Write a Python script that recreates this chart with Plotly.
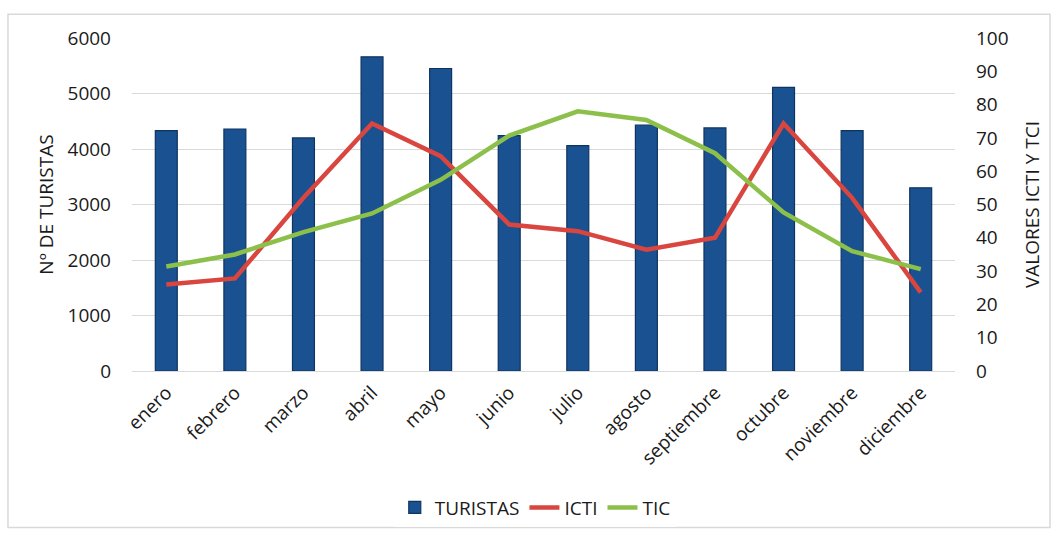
import plotly.graph_objects as go

# Monthly tourist counts and climate comfort indices
meses = ["enero", "febrero", "marzo", "abril", "mayo", "junio", "julio",
         "agosto", "septiembre", "octubre", "noviembre", "diciembre"]
turistas = [4330, 4360, 4200, 5660, 5450, 4240, 4060, 4430, 4380, 5110, 4330, 3300]
icti = [26, 27.8, 52, 74.3, 64.5, 44, 42, 36.4, 40, 74.3, 52, 23.6]
tic = [31.4, 35, 41.7, 47.3, 57.4, 70.7, 78, 75.4, 65.4, 47.6, 36, 30.6]

FONT = "Open Sans"
FS = 19
fig = go.Figure()

fig.add_trace(go.Bar(
    x=meses, y=turistas, name="TURISTAS", width=0.32,
    marker=dict(color="#1a5190", line=dict(color="#0e3562", width=1.2)),
    yaxis="y",
))
fig.add_trace(go.Scatter(
    x=meses, y=icti, name="ICTI", mode="lines",
    line=dict(color="#d9463f", width=4.5), yaxis="y2",
))
fig.add_trace(go.Scatter(
    x=meses, y=tic, name="TIC", mode="lines",
    line=dict(color="#8cc04b", width=4.5), yaxis="y2",
))

fig.update_layout(
    width=1059, height=539,
    margin=dict(l=132, r=104, t=38, b=163),
    paper_bgcolor="white", plot_bgcolor="white",
    font=dict(family=FONT, size=FS, color="#1a1a1a"),
    showlegend=True,
    legend=dict(orientation="h", x=0.49, xanchor="center", y=-0.41, yanchor="middle",
                font=dict(size=FS), traceorder="normal", itemwidth=30),
    xaxis=dict(tickangle=-45, showgrid=False, showline=False, ticks="",
               tickfont=dict(size=FS), ticklabelstandoff=6),
    yaxis=dict(range=[0, 6000], dtick=1000, showgrid=True, gridcolor="#d9d9d9",
               gridwidth=1.3, zeroline=True, zerolinecolor="#d9d9d9", zerolinewidth=1.3,
               tickfont=dict(size=FS), ticklabelstandoff=20,
               title=dict(text="Nº DE TURISTAS", font=dict(size=FS), standoff=8)),
    yaxis2=dict(range=[0, 100], dtick=10, overlaying="y", side="right", showgrid=False,
                zeroline=False, tickfont=dict(size=FS), ticklabelstandoff=20,
                title=dict(text="VALORES ICTI Y TCI", font=dict(size=FS), standoff=18)),
    shapes=[dict(type="rect", xref="paper", yref="paper",
                 x0=-0.1507, x1=1.1154, y0=-0.47, y1=1.071,
                 line=dict(color="#d9d9d9", width=1.5), fillcolor="rgba(0,0,0,0)",
                 layer="below")],
)

fig.write_html("out.html")
